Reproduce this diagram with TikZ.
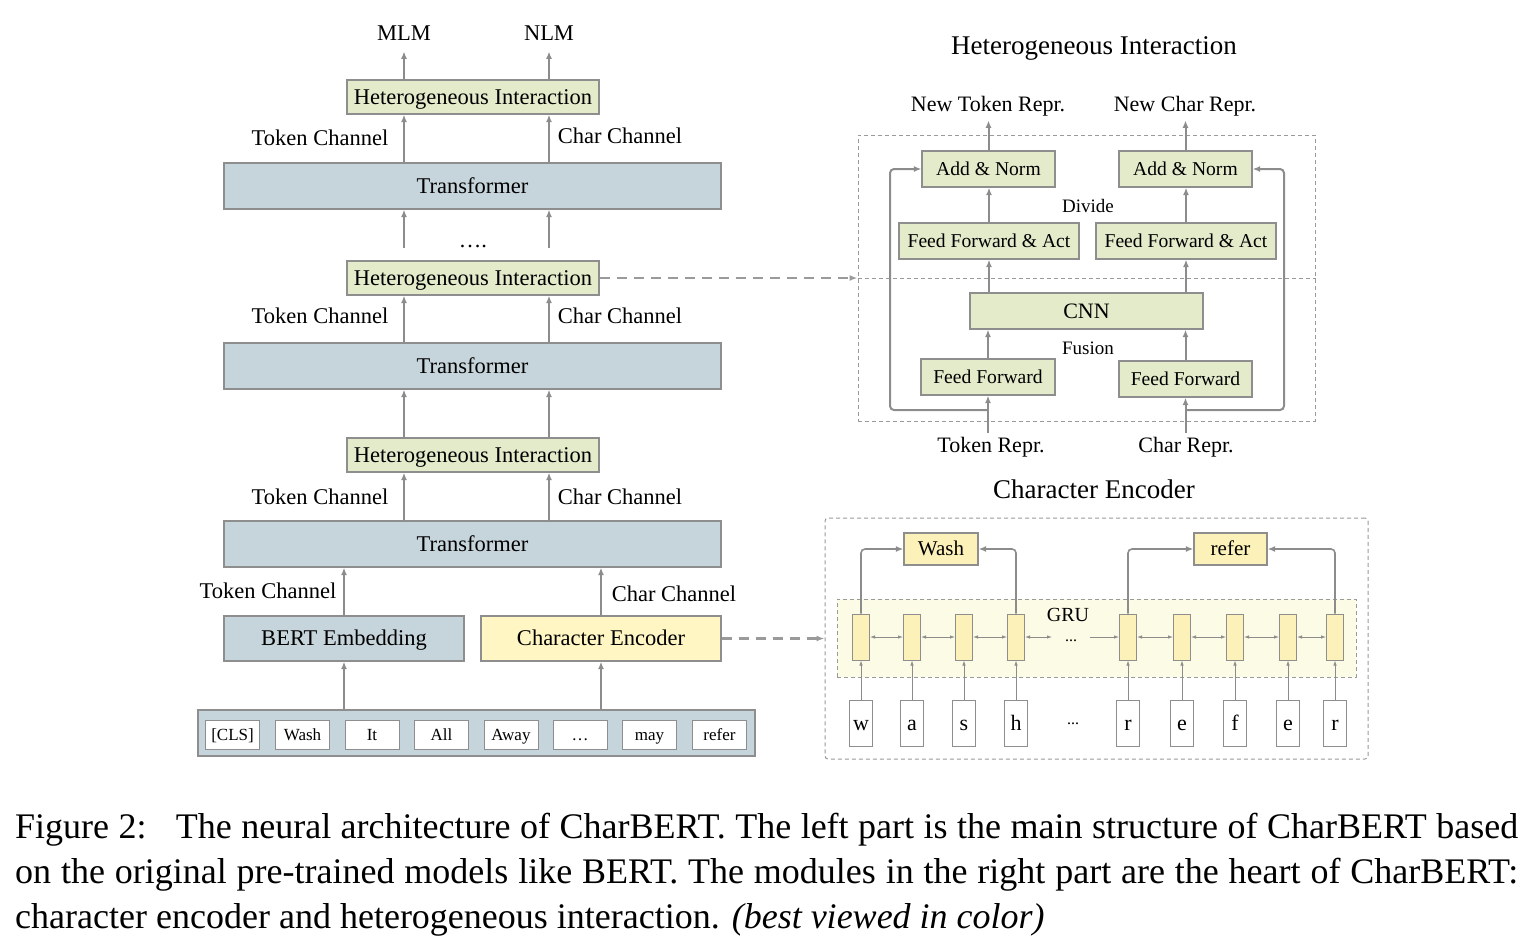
\documentclass[tikz,border=0pt]{standalone}
\usepackage{fontspec}
\setmainfont{Liberation Serif}
\usetikzlibrary{arrows.meta,calc}
\definecolor{hgreen}{HTML}{E3EBCB}
\definecolor{tblue}{HTML}{C6D4DB}
\definecolor{cyel}{HTML}{FFF6C3}
\definecolor{cellyel}{HTML}{FCF1B8}
\definecolor{bandyel}{HTML}{FCFBE6}
\definecolor{bord}{HTML}{8E8E8E}
\definecolor{agray}{HTML}{8C8C8C}
\definecolor{dgray}{HTML}{9A9A9A}
\newcommand{\lbl}{\fontsize{22.5}{27}\selectfont}
\newcommand{\sml}{\fontsize{19.6}{24}\selectfont}
\tikzset{
  ctr/.style={text height=#1, text depth=0pt},
  boxbase/.style={draw=bord, line width=1.2pt, inner sep=0pt, font=\lbl, ctr=14.9pt},
  gbox/.style={boxbase, fill=hgreen},
  bbox/.style={boxbase, fill=tblue},
  ybox/.style={boxbase, fill=cyel},
  smallbox/.style={gbox, font=\sml, ctr=12.9pt},
  tokbox/.style={draw=bord, line width=1pt, fill=white, inner sep=0pt, minimum width=54pt, minimum height=29pt, font=\fontsize{17}{20}\selectfont, ctr=11.2pt},
  cellbox/.style={draw=bord, line width=1pt, fill=cellyel, inner sep=0pt, minimum width=17pt, minimum height=46pt},
  chbox/.style={draw=bord, line width=1pt, fill=white, inner sep=0pt, minimum width=23pt, minimum height=46pt, font=\fontsize{22}{26}\selectfont, ctr=14.5pt},
  arr/.style={draw=agray, line width=2pt, -{Latex[length=7.5pt,width=6pt]}},
  thinarr/.style={draw=agray, line width=0.8pt, -{Latex[length=5pt,width=3.5pt]}},
  darr/.style={draw=dgray, line width=2.5pt, dash pattern=on 10pt off 7pt, -{Latex[length=8pt,width=6pt]}},
  dbox/.style={draw=dgray, line width=1pt, dash pattern=on 4pt off 3pt, inner sep=0pt},
  txt/.style={font=\lbl, inner sep=0pt, ctr=14.9pt},
  txtm/.style={font=\fontsize{22}{26}\selectfont, inner sep=0pt, ctr=14.5pt},
  txts/.style={font=\fontsize{19}{23}\selectfont, inner sep=0pt, ctr=12.5pt},
  ttl/.style={font=\fontsize{27}{32}\selectfont, inner sep=0pt, ctr=17.8pt},
}
\begin{document}
\begin{tikzpicture}[x=1pt,y=-1pt]
\useasboundingbox (0,0) rectangle (1540,946);

% ---------------- left column ----------------
\coordinate (tx) at (404,0);
\coordinate (cx) at (549,0);
\node[txt] (mlm) at (404,33) {MLM};
\node[txt] (nlm) at (549,33) {NLM};
\node[gbox, minimum width=252pt, minimum height=34pt] (hi1) at (473,97) {Heterogeneous Interaction};
\node[bbox, minimum width=497pt, minimum height=46pt] (tr1) at (472.5,186) {Transformer};
\node[gbox, minimum width=252pt, minimum height=34pt] (hi2) at (473,278) {Heterogeneous Interaction};
\node[bbox, minimum width=497pt, minimum height=46pt] (tr2) at (472.5,366) {Transformer};
\node[gbox, minimum width=252pt, minimum height=34pt] (hi3) at (473,455) {Heterogeneous Interaction};
\node[bbox, minimum width=497pt, minimum height=46pt] (tr3) at (472.5,544) {Transformer};
\node[bbox, minimum width=240pt, minimum height=45pt] (bert) at (344,638.5) {BERT Embedding};
\node[ybox, minimum width=240pt, minimum height=45pt] (cenc) at (601,638.5) {Character Encoder};
\node[bbox, minimum width=557pt, minimum height=46pt] (strip) at (476.5,733) {};
\node[tokbox] (t1) at (232.5,734.5) {[CLS]};
\node[tokbox] (t2) at (302.5,734.5) {Wash};
\node[tokbox] (t3) at (372,734.5) {It};
\node[tokbox] (t4) at (441.5,734.5) {All};
\node[tokbox] (t5) at (511,734.5) {Away};
\node[tokbox] (t6) at (580,734.5) {\ldots};
\node[tokbox] (t7) at (649.5,734.5) {may};
\node[tokbox] (t8) at (719.5,734.5) {refer};

\node[txt] (tc1) at (320,138) {Token Channel};
\node[txt] (cc1) at (620,136) {Char Channel};
\node[txt] (tc2) at (320,316) {Token Channel};
\node[txt] (cc2) at (620,316) {Char Channel};
\node[txt] (tc3) at (320,497) {Token Channel};
\node[txt] (cc3) at (620,497) {Char Channel};
\node[txt] (tc4) at (268,591) {Token Channel};
\node[txt] (cc4) at (674,594) {Char Channel};
\node[txt] (dots) at (473,240) {\ldots.};
\coordinate (d1) at (404,248);
\coordinate (d2) at (549,248);

\draw[arr] (hi1.north -| tx) -- ++(0,-28);
\draw[arr] (hi1.north -| cx) -- ++(0,-28);
\draw[arr] (tr1.north -| tx) -- (hi1.south -| tx);
\draw[arr] (tr1.north -| cx) -- (hi1.south -| cx);
\draw[arr] (d1) -- (tr1.south -| tx);
\draw[arr] (d2) -- (tr1.south -| cx);
\draw[arr] (tr2.north -| tx) -- (hi2.south -| tx);
\draw[arr] (tr2.north -| cx) -- (hi2.south -| cx);
\draw[arr] (hi3.north -| tx) -- (tr2.south -| tx);
\draw[arr] (hi3.north -| cx) -- (tr2.south -| cx);
\draw[arr] (tr3.north -| tx) -- (hi3.south -| tx);
\draw[arr] (tr3.north -| cx) -- (hi3.south -| cx);
\draw[arr] (bert.north) -- (tr3.south -| bert.north);
\draw[arr] (cenc.north) -- (tr3.south -| cenc.north);
\draw[arr] (strip.north -| bert.south) -- (bert.south);
\draw[arr] (strip.north -| cenc.south) -- (cenc.south);

% ---------------- heterogeneous interaction ----------------
\node[ttl] (title1) at (1094,46) {Heterogeneous Interaction};
\node[dbox, minimum width=457pt, minimum height=286pt] (hibox) at (1086.5,278) {};
\draw[dgray, line width=1pt, dash pattern=on 4pt off 3pt] (hibox.west) -- (hibox.east);
\node[txtm] (ntok) at (988,104) {New Token Repr.};
\node[txtm] (nchr) at (1185,104) {New Char Repr.};
\node[smallbox, minimum width=133pt, minimum height=36pt] (an1) at (988.5,169) {Add \& Norm};
\node[smallbox, minimum width=133pt, minimum height=36pt] (an2) at (1185.5,169) {Add \& Norm};
\node[smallbox, minimum width=180pt, minimum height=36pt] (ff1) at (989,241) {Feed Forward \& Act};
\node[smallbox, minimum width=180pt, minimum height=36pt] (ff2) at (1186,241) {Feed Forward \& Act};
\node[gbox, font=\fontsize{22}{26}\selectfont, ctr=14.5pt, minimum width=233pt, minimum height=36pt] (cnn) at (1086.5,311) {CNN};
\node[smallbox, minimum width=134pt, minimum height=36pt] (fa) at (988,377) {Feed Forward};
\node[smallbox, minimum width=133pt, minimum height=36pt] (fb) at (1185.5,379) {Feed Forward};
\node[txts] (divide) at (1088,206) {Divide};
\node[txts] (fusion) at (1088,348) {Fusion};
\node[txtm] (trep) at (991,445) {Token Repr.};
\node[txtm] (crep) at (1186,445) {Char Repr.};
\coordinate (r1) at (988,410);
\coordinate (r2) at (1186,410);

\draw[arr] ($(fa.south |- trep.north)+(0,-5)$) -- (fa.south);
\draw[arr] ($(fb.south |- crep.north)+(0,-5)$) -- (fb.south);
\draw[arr] (fa.north) -- (cnn.south -| fa.north);
\draw[arr] (fb.north) -- (cnn.south -| fb.north);
\draw[arr] (cnn.north -| ff1.south) -- (ff1.south);
\draw[arr] (cnn.north -| ff2.south) -- (ff2.south);
\draw[arr] (ff1.north) -- (an1.south -| ff1.north);
\draw[arr] (ff2.north) -- (an2.south -| ff2.north);
\draw[arr] (an1.north) -- ++(0,-30);
\draw[arr] (an2.north) -- ++(0,-30);
\draw[arr, rounded corners=4pt] (r1) -- ++(-98,0) |- (an1.west);
\draw[arr, rounded corners=4pt] (r2) -- ++(98,0) |- (an2.east);

\draw[darr] (hi2.east) -- (hibox.west |- hi2.east);

% ---------------- character encoder ----------------
\node[ttl] (title2) at (1094,490) {Character Encoder};
\node[dbox, rounded corners=3pt, minimum width=543pt, minimum height=241pt] (cebox) at (1096.5,638.5) {};
\node[dbox, fill=bandyel, minimum width=519pt, minimum height=78pt] (band) at (1096.5,638) {};
\node[txt, font=\fontsize{20}{24}\selectfont, ctr=13.2pt] (gru) at (1068,615) {GRU};

\foreach \i/\x/\c in {1/861/w,2/912/a,3/964/s,4/1016/h,5/1128/r,6/1182/e,7/1235/f,8/1288/e,9/1335/r}{
  \node[cellbox] (c\i) at (\x,637) {};
  \node[chbox] (ch\i) at (\x,723.5) {\c};
  \draw[thinarr] (ch\i.north) -- (c\i.south);
}
\node[txt, font=\fontsize{16}{20}\selectfont, ctr=10pt] (cdots) at (1071,636) {...};
\node[txt, font=\fontsize{16}{20}\selectfont, ctr=10pt] (hdots) at (1073,719) {...};
\coordinate (g1) at (1052,637);
\coordinate (g2) at (1090,637);
\foreach \a/\b in {1/2,2/3,3/4,5/6,6/7,7/8,8/9}{
  \draw[thinarr, {Latex[length=5pt,width=3.5pt]}-{Latex[length=5pt,width=3.5pt]}] (c\a.east) -- (c\b.west);
}
\draw[thinarr, {Latex[length=5pt,width=3.5pt]}-{Latex[length=5pt,width=3.5pt]}] (c4.east) -- (g1);
\draw[thinarr] (g2) -- (c5.west);

\node[ybox, fill=cellyel, font=\fontsize{21}{25}\selectfont, ctr=13.9pt, minimum width=74pt, minimum height=32pt] (wash) at (941,549) {Wash};
\node[ybox, fill=cellyel, font=\fontsize{21}{25}\selectfont, ctr=13.9pt, minimum width=73pt, minimum height=32pt] (refer) at (1230.5,549) {refer};
\draw[arr, line width=1.6pt, rounded corners=4pt] (c1.north) |- (wash.west);
\draw[arr, line width=1.6pt, rounded corners=4pt] (c4.north) |- (wash.east);
\draw[arr, line width=1.6pt, rounded corners=4pt] (c5.north) |- (refer.west);
\draw[arr, line width=1.6pt, rounded corners=4pt] (c9.north) |- (refer.east);

\draw[darr] (cenc.east) -- (cebox.west |- cenc.east);

% ---------------- caption ----------------
\node[anchor=base west, inner sep=0pt, font=\fontsize{36}{45}\selectfont] (cap1) at (15,838)
  {\makebox[1503pt][s]{Figure 2:\hspace{0.45em} The neural architecture of CharBERT. The left part is the main structure of CharBERT based}};
\node[anchor=base west, inner sep=0pt, font=\fontsize{36}{45}\selectfont] (cap2) at (15,883)
  {\makebox[1503pt][s]{on the original pre-trained models like BERT. The modules in the right part are the heart of CharBERT:}};
\node[anchor=base west, inner sep=0pt, font=\fontsize{36}{45}\selectfont] (cap3) at (15,928)
  {character encoder and heterogeneous interaction. \textit{(best viewed in color)}};
\end{tikzpicture}
\end{document}
